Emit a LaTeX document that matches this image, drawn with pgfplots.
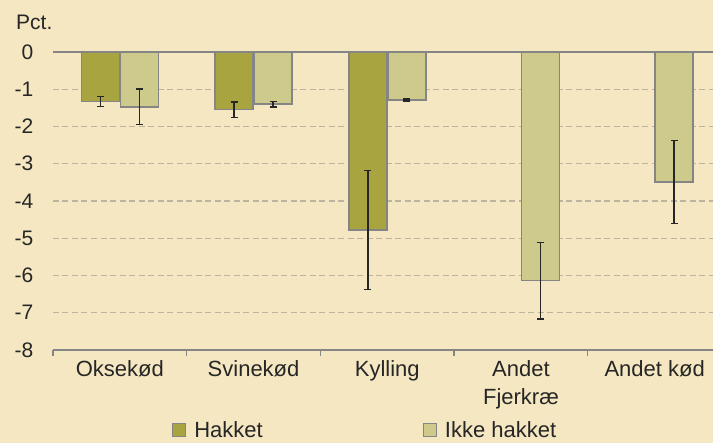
\documentclass[border=0pt]{standalone}
\usepackage{pgfplots}
\pgfplotsset{compat=1.18}
\usepackage{fontspec}
\setmainfont{Liberation Sans}
\definecolor{bg}{HTML}{F5E7C1}
\definecolor{dark}{HTML}{A8A440}
\definecolor{light}{HTML}{CDCA8C}
\definecolor{txt}{HTML}{262626}
\definecolor{gridc}{HTML}{BDB4A0}
\definecolor{edge}{HTML}{858585}
\pgfplotsset{sqlegend/.style={legend image code/.code={\draw[##1, line width=1.2pt] (0pt,-6.5pt) rectangle (13pt,6.5pt);}}}
\begin{document}
\begin{tikzpicture}
\useasboundingbox (0,0) rectangle (713pt,443pt);
\fill[bg] (0,0) rectangle (713pt,443pt);
\node[anchor=west, text=txt, font=\fontsize{21}{25}\selectfont, inner sep=0pt] at (16pt,421pt) {Pct.};
\begin{axis}[
 at={(53pt,93pt)}, anchor=south west,
 scale only axis, width=660pt, height=298pt,
 xmin=-0.5, xmax=4.436, ymin=-8, ymax=0,
 ybar=1pt, bar width=38pt,
 axis x line*=bottom, axis y line*=left,
 y axis line style={draw=none},
 x axis line style={edge, line width=1.3pt},
 xtick={0,1,2,3,4},
 xticklabels={Oksekød, Svinekød, Kylling, {Andet\\Fjerkræ}, Andet kød},
 xticklabel style={align=center, text=txt, font=\fontsize{22}{28}\selectfont, yshift=-3pt},
 major x tick style={draw=none},
 minor xtick={-0.5,0.5,1.5,2.5,3.5},
 minor x tick style={edge, line width=1.3pt},
 tick align=outside,
 minor tick length=6pt,
 ytick={-8,-7,...,-1},
 extra y ticks={0},
 extra y tick style={grid=major, major grid style={solid, edge, line width=1.3pt}},
 ymajorgrids,
 major grid style={gridc, dash pattern=on 6pt off 3.5pt, line width=1.1pt},
 ytick style={draw=none},
 yticklabel style={text=txt, font=\fontsize{21}{25}\selectfont, xshift=-12pt},
 /pgf/number format/assume math mode=true,
 legend style={at={(0.473,-0.269)}, anchor=center, draw=none, fill=none,
   font=\fontsize{22}{27}\selectfont, text=txt, legend columns=2,
   /tikz/every odd column/.append style={column sep=6pt},
   /tikz/every even column/.append style={column sep=158pt}},
]
\addplot[fill=dark, draw=edge, line width=1.5pt, sqlegend,
  error bars/.cd, y dir=both, y explicit,
  error bar style={draw=black!85, line width=1.7pt},
  error mark options={rotate=90, draw=black!85, mark size=3.5pt, line width=1.5pt}]
  table[x=x, y=y, y error=e] {
x y e
0 -1.33 0.13
1 -1.55 0.21
2 -4.78 1.60
};
\addlegendentry{Hakket}
\addplot[fill=light, draw=edge, line width=1.5pt, sqlegend,
  error bars/.cd, y dir=both, y explicit,
  error bar style={draw=black!85, line width=1.7pt},
  error mark options={rotate=90, draw=black!85, mark size=3.5pt, line width=1.5pt}]
  table[x=x, y=y, y error=e] {
x y e
0 -1.47 0.48
1 -1.40 0.07
2 -1.29 0.03
3 -6.14 1.03
4 -3.49 1.11
};
\addlegendentry{Ikke hakket}
\end{axis}
\end{tikzpicture}
\end{document}
